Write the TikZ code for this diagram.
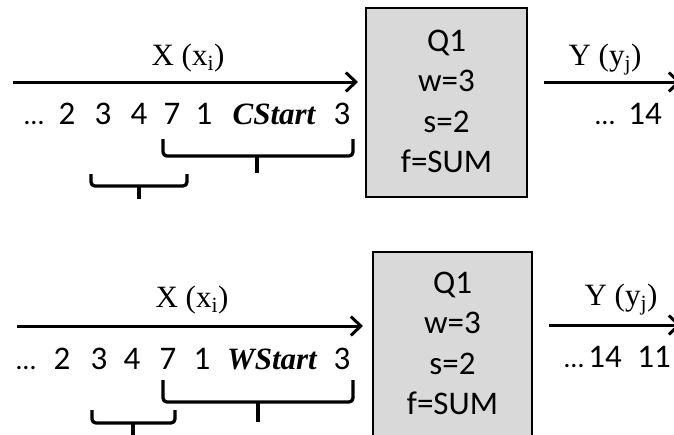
\documentclass[tikz,border=0pt]{standalone}
\usepackage{fontspec}
\setmainfont{Liberation Serif}
\newfontfamily\calfont{Carlito}
\usetikzlibrary{arrows.meta}
\newcommand{\myell}{{\fontsize{28}{30}\selectfont …}}
\tikzset{
  flow/.style={line width=3pt,-{Straight Barb[length=10pt,width=19pt]}},
  qbox/.style={draw,line width=2.2pt,fill=black!15,inner sep=0pt},
  num/.style={font=\calfont\fontsize{33}{36}\selectfont,anchor=base,inner sep=0pt},
  lbl/.style={font=\fontsize{31}{34}\selectfont,anchor=base,inner sep=0pt},
  bit/.style={font=\bfseries\itshape\fontsize{31}{34}\selectfont,anchor=base,inner sep=0pt},
  brk/.style={line width=3.3pt,rounded corners=4pt},
}
\begin{document}
\begin{tikzpicture}[x=1pt,y=-1pt]
\useasboundingbox (0,0) rectangle (674,434);
% ---------- top ----------
\coordinate (ta1) at (13,82);
\coordinate (ta2) at (358,82);
\draw[flow] (ta1) -- (ta2);
\node[lbl] (tx) at (188,65) {X (x\textsubscript{i})};
\node[qbox,minimum width=161pt,minimum height=189pt] (tq) at (446.5,102.5) {};
\node[num] (tq1) at (446.5,51) {Q1};
\node[num] (tq2) at (446.5,91) {w=3};
\node[num] (tq3) at (446.5,132) {s=2};
\node[num] (tq4) at (446.5,172) {f=SUM};
\foreach \n/\x/\t in {a/34/\myell, b/67/2, c/103/3, d/139/4, e/172/7, f/204/1, h/342/3}
  \node[num] (tn\n) at (\x,124) {\t};
\node[bit] (tng) at (274,124) {CStart};
\coordinate (tb1) at (163,139);
\coordinate (tb2) at (163,156);
\coordinate (tb3) at (257,156);
\coordinate (tb4) at (257,173);
\coordinate (tb5) at (353,156);
\coordinate (tb6) at (353,139);
\draw[brk] (tb1) -- (tb2) -- (tb3) -- (tb5) -- (tb6);
\draw[brk] (tb3) -- (tb4);
\coordinate (ts1) at (91,174);
\coordinate (ts2) at (91,186);
\coordinate (ts3) at (139,186);
\coordinate (ts4) at (139,199);
\coordinate (ts5) at (187,186);
\coordinate (ts6) at (187,174);
\draw[brk] (ts1) -- (ts2) -- (ts3) -- (ts5) -- (ts6);
\draw[brk] (ts3) -- (ts4);
\coordinate (ty1) at (544,82);
\coordinate (ty2) at (681,82);
\draw[flow] (ty1) -- (ty2);
\node[lbl] (ty) at (605,65) {Y (y\textsubscript{j})};
\node[num] (tya) at (605,124) {\myell};
\node[num] (tyb) at (645,124) {14};
% ---------- bottom ----------
\coordinate (ba1) at (17,326);
\coordinate (ba2) at (363,326);
\draw[flow] (ba1) -- (ba2);
\node[lbl] (bx) at (192,307) {X (x\textsubscript{i})};
\node[qbox,minimum width=159pt,minimum height=189pt] (bq) at (452.5,346.5) {};
\node[num] (bq1) at (452.5,293) {Q1};
\node[num] (bq2) at (452.5,333) {w=3};
\node[num] (bq3) at (452.5,374) {s=2};
\node[num] (bq4) at (452.5,414) {f=SUM};
\foreach \n/\x/\t in {a/26/\myell, b/62/2, c/99/3, d/132/4, e/168/7, f/202/1, h/342/3}
  \node[num] (bn\n) at (\x,369) {\t};
\node[bit] (bng) at (272,369) {WStart};
\coordinate (bb1) at (163,380);
\coordinate (bb2) at (163,402);
\coordinate (bb3) at (258,402);
\coordinate (bb4) at (258,422);
\coordinate (bb5) at (353,402);
\coordinate (bb6) at (353,380);
\draw[brk] (bb1) -- (bb2) -- (bb3) -- (bb5) -- (bb6);
\draw[brk] (bb3) -- (bb4);
\coordinate (bs1) at (92,410);
\coordinate (bs2) at (92,423);
\coordinate (bs3) at (133,423);
\coordinate (bs4) at (133,440);
\coordinate (bs5) at (175,423);
\coordinate (bs6) at (175,410);
\draw[brk] (bs1) -- (bs2) -- (bs3) -- (bs5) -- (bs6);
\draw[brk] (bs3) -- (bs4);
\coordinate (by1) at (549,325);
\coordinate (by2) at (681,325);
\draw[flow] (by1) -- (by2);
\node[lbl] (by) at (621,305) {Y (y\textsubscript{j})};
\node[num] (bya) at (574,367) {\myell};
\node[num] (byb) at (605,367) {14};
\node[num] (byc) at (654,367) {11};
\end{tikzpicture}
\end{document}
